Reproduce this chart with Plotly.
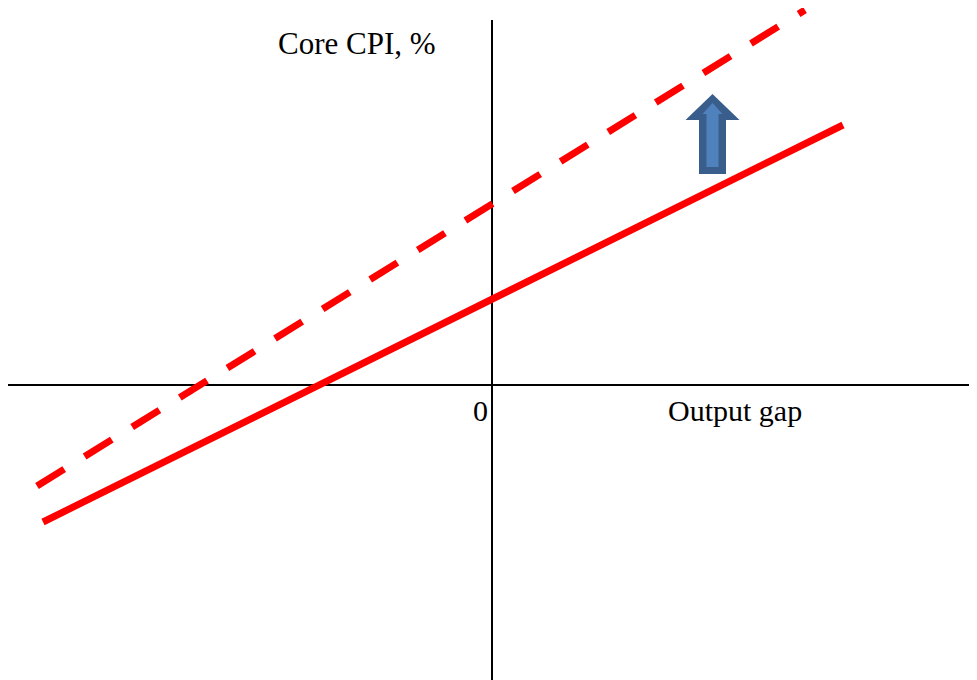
import plotly.graph_objects as go

# Conceptual Phillips-curve style chart (units: arbitrary, origin at 0)
solid_x = [-4.49, 3.51]
solid_y = [-1.37, 2.60]
dashed_x = [-4.55, 3.13]
dashed_y = [-1.01, 3.75]

x_axis_label = "Output gap"
y_axis_label = "Core CPI, %"
origin_label = "0"

# page has an 8px body margin, so the figure is 969x672 and ranges account for it
X_RANGE = [-4.84, 4.85]
Y_RANGE = [-2.95, 3.77]

RED = "#FF0000"
DARK_BLUE = "#3A5E8C"
LIGHT_BLUE = "#4F81BD"
FONT = "Liberation Serif, Times New Roman, serif"

fig = go.Figure()

# axes lines
fig.add_trace(go.Scatter(x=[-4.84, 5.0], y=[0, 0], mode="lines",
                         line=dict(color="black", width=2), hoverinfo="skip"))
fig.add_trace(go.Scatter(x=[0, 0], y=[-3.0, 3.65], mode="lines",
                         line=dict(color="black", width=2), hoverinfo="skip"))

# curves
fig.add_trace(go.Scatter(x=dashed_x, y=dashed_y, mode="lines",
                         line=dict(color=RED, width=7, dash="32px,24px")))
fig.add_trace(go.Scatter(x=solid_x, y=solid_y, mode="lines",
                         line=dict(color=RED, width=7)))

# upward block arrow (outer dark, inner light)
def arrow_path(cx, tip, head_base, bottom, head_hw, shaft_hw):
    return (f"M {cx},{tip} L {cx + head_hw},{head_base} L {cx + shaft_hw},{head_base} "
            f"L {cx + shaft_hw},{bottom} L {cx - shaft_hw},{bottom} L {cx - shaft_hw},{head_base} "
            f"L {cx - head_hw},{head_base} Z")

cx = 2.205
fig.add_shape(type="path", path=arrow_path(cx, 2.91, 2.65, 2.11, 0.27, 0.135),
              fillcolor=DARK_BLUE, line=dict(width=0), layer="above")
fig.add_shape(type="path", path=arrow_path(cx, 2.82, 2.71, 2.18, 0.10, 0.06),
              fillcolor=LIGHT_BLUE, line=dict(width=0), layer="above")

fig.add_annotation(x=-2.16, y=3.42, text=y_axis_label, showarrow=False,
                   xanchor="left", yanchor="middle",
                   font=dict(family=FONT, size=31, color="black"))
fig.add_annotation(x=1.74, y=-0.25, text=x_axis_label, showarrow=False,
                   xanchor="left", yanchor="middle",
                   font=dict(family=FONT, size=30, color="black"))
fig.add_annotation(x=-0.02, y=-0.25, text=origin_label, showarrow=False,
                   xanchor="right", yanchor="middle",
                   font=dict(family=FONT, size=30, color="black"))

fig.update_layout(
    width=969, height=672,
    margin=dict(l=0, r=0, t=0, b=0),
    paper_bgcolor="white", plot_bgcolor="white",
    showlegend=False,
    xaxis=dict(range=X_RANGE, visible=False, fixedrange=True),
    yaxis=dict(range=Y_RANGE, visible=False, fixedrange=True),
)

fig.write_html("out.html")
